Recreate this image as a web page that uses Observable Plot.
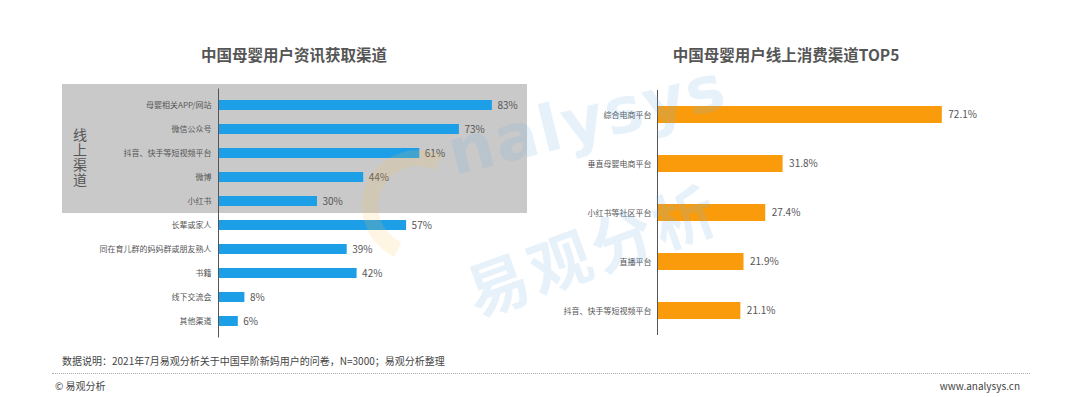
<!DOCTYPE html>
<html><head><meta charset="utf-8">
<script src="https://cdn.jsdelivr.net/npm/d3@7"></script>
<script src="https://cdn.jsdelivr.net/npm/@observablehq/plot@0.6"></script>
<style>
body{margin:0;background:#fff;font-family:"Noto Sans CJK SC","Noto Sans",sans-serif;}
#wrap{position:relative;width:1080px;height:397px;overflow:hidden;background:#fff;}
.abs{position:absolute;}
.title{font-size:15.5px;font-weight:bold;color:#555;text-align:center;line-height:20px;white-space:nowrap;}
.foot{font-size:10px;color:#444;line-height:12px;white-space:nowrap;}
</style></head><body>
<div id="wrap">
  <div class="abs title" style="left:144px;top:44px;width:300px;">中国母婴用户资讯获取渠道</div>
  <div class="abs title" style="left:636px;top:44px;width:300px;">中国母婴用户线上消费渠道TOP5</div>
  <div class="abs" style="left:62px;top:84px;width:465px;height:129px;background:#c9c9c9;"></div>
  <div class="abs" style="left:72px;top:128px;writing-mode:vertical-rl;font-size:14px;line-height:16px;color:#555;letter-spacing:1px;">线上渠道</div>
  <div id="left" class="abs" style="left:0;top:0;"></div>
  <div id="right" class="abs" style="left:540px;top:0;"></div>
  <div class="abs" style="left:362px;top:150px;width:80px;height:80px;border-radius:50%;border:16px solid rgba(250,190,80,0.16);border-right-color:transparent;border-bottom-color:transparent;transform:rotate(-20deg);pointer-events:none;"></div>
  <div class="abs" style="left:440px;top:118px;font-size:64px;font-weight:bold;color:rgba(120,180,230,0.18);transform:rotate(-14deg);transform-origin:left top;letter-spacing:2px;font-family:'DejaVu Sans',sans-serif;pointer-events:none;">nalysys</div>
  <div class="abs" style="left:452px;top:250px;font-size:62px;font-weight:bold;color:rgba(120,180,230,0.18);transform:rotate(-20deg);transform-origin:left top;letter-spacing:4px;pointer-events:none;">易观分析</div>
  <div class="abs foot" style="left:62px;top:355px;">数据说明：2021年7月易观分析关于中国早阶新妈用户的问卷，N=3000；易观分析整理</div>
  <div class="abs" style="left:52px;top:373px;width:978px;border-top:1px dotted #aaa;"></div>
  <div class="abs foot" style="left:55px;top:380px;">© 易观分析</div>
  <div class="abs foot" style="left:930px;top:380px;width:90px;text-align:right;">www.analysys.cn</div>
</div>
<script>
const leftCats = ["母婴相关APP/网站","微信公众号","抖音、快手等短视频平台","微博","小红书","长辈或家人","同在育儿群的妈妈群或朋友熟人","书籍","线下交流会","其他渠道"];
const leftVals = [83,73,61,44,30,57,39,42,8,6];
const rightCats = ["综合电商平台","垂直母婴电商平台","小红书等社区平台","直播平台","抖音、快手等短视频平台"];
const rightVals = [72.1,31.8,27.4,21.9,21.1];

const leftData = leftCats.map((c,i)=>({cat:c, v:leftVals[i]}));
const rightData = rightCats.map((c,i)=>({cat:c, v:rightVals[i]}));
const font = '"Noto Sans CJK SC","Noto Sans",sans-serif';

const leftPlot = Plot.plot({
  width: 560, height: 397,
  marginTop: 88.5, marginBottom: 59.5, marginLeft: 218, marginRight: 12,
  style: {background: "transparent", fontFamily: font, color: "#555", overflow: "visible"},
  x: {domain: [0,100], axis: null},
  y: {domain: leftCats, paddingInner: 0.6, paddingOuter: 0.3, label: null},
  marks: [
    Plot.barX(leftData, {y: "cat", x: "v", fill: "#1d9fe8"}),
    Plot.text(leftData, {y: "cat", x: "v", text: d => d.v + "%", textAnchor: "start", dx: 5, fontSize: 10, fill: "#555"}),
    Plot.axisY({tickSize: 0, tickPadding: 7, fontSize: 8, label: null}),
    Plot.ruleX([0], {stroke: "#555", strokeWidth: 1})
  ]
});
document.getElementById("left").appendChild(leftPlot);

const rightPlot = Plot.plot({
  width: 540, height: 397,
  marginTop: 90, marginBottom: 62, marginLeft: 117, marginRight: 28,
  style: {background: "transparent", fontFamily: font, color: "#555", overflow: "visible"},
  x: {domain: [0,100], axis: null},
  y: {domain: rightCats, paddingInner: 0.66, paddingOuter: 0.305, label: null},
  marks: [
    Plot.barX(rightData, {y: "cat", x: "v", fill: "#f99b0b"}),
    Plot.text(rightData, {y: "cat", x: "v", text: d => d.v.toFixed(1) + "%", textAnchor: "start", dx: 6, fontSize: 10, fill: "#555"}),
    Plot.axisY({tickSize: 0, tickPadding: 6, fontSize: 8, label: null}),
    Plot.ruleX([0], {stroke: "#555", strokeWidth: 1})
  ]
});
document.getElementById("right").appendChild(rightPlot);
</script>
</body></html>
